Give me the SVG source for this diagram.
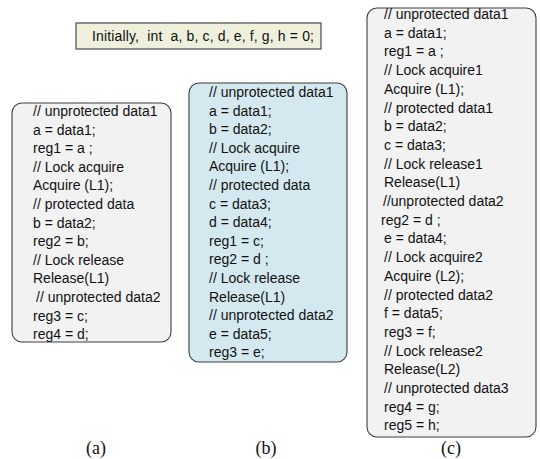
<svg xmlns="http://www.w3.org/2000/svg" width="540" height="459" viewBox="0 0 540 459">
<style>
.box{stroke:#3c3c3c;stroke-width:1.1}
.gray{fill:#f2f2f2}
.blue{fill:#d3e9ef}
.code{font-family:"Liberation Sans",Arial,sans-serif;font-size:14px;fill:#111}
.cap{font-family:"Liberation Serif","Times New Roman",serif;font-size:18px;fill:#111;text-anchor:middle}
</style>
<rect width="540" height="459" fill="#ffffff"/>
<g id="init">
<rect x="76" y="23" width="245" height="26" fill="#eef0dc" stroke="#3c3c3c" stroke-width="1.1"/>
<text class="code" x="92" y="41" xml:space="preserve" textLength="222" lengthAdjust="spacing">Initially,  int  a, b, c, d, e, f, g, h = 0;</text>
</g>
<g id="node-a">
<rect class="box gray" x="12" y="103" width="159" height="239" rx="10"/>
<text class="code">
<tspan x="33" y="116">// unprotected data1</tspan>
<tspan x="33" y="134.6">a = data1;</tspan>
<tspan x="33" y="153.2">reg1 = a ;</tspan>
<tspan x="33" y="171.8">// Lock acquire</tspan>
<tspan x="33" y="190.4">Acquire (L1);</tspan>
<tspan x="33" y="209">// protected data</tspan>
<tspan x="33" y="227.6">b = data2;</tspan>
<tspan x="33" y="246.2">reg2 = b;</tspan>
<tspan x="33" y="264.8">// Lock release</tspan>
<tspan x="33" y="283.4">Release(L1)</tspan>
<tspan x="36" y="302">// unprotected data2</tspan>
<tspan x="33" y="320.6">reg3 = c;</tspan>
<tspan x="33" y="339.2">reg4 = d;</tspan>
</text>
</g>
<g id="node-b">
<rect class="box blue" x="189" y="83" width="158" height="279" rx="10"/>
<text class="code">
<tspan x="209" y="97">// unprotected data1</tspan>
<tspan x="209" y="115.6">a = data1;</tspan>
<tspan x="209" y="134.2">b = data2;</tspan>
<tspan x="209" y="152.8">// Lock acquire</tspan>
<tspan x="209" y="171.4">Acquire (L1);</tspan>
<tspan x="209" y="190">// protected data</tspan>
<tspan x="209" y="208.6">c = data3;</tspan>
<tspan x="209" y="227.2">d = data4;</tspan>
<tspan x="209" y="245.8">reg1 = c;</tspan>
<tspan x="209" y="264.4">reg2 = d ;</tspan>
<tspan x="209" y="283">// Lock release</tspan>
<tspan x="209" y="301.6">Release(L1)</tspan>
<tspan x="209" y="320.2">// unprotected data2</tspan>
<tspan x="209" y="338.8">e = data5;</tspan>
<tspan x="209" y="357.4">reg3 = e;</tspan>
</text>
</g>
<g id="node-c">
<rect class="box gray" x="367" y="8" width="169" height="429" rx="10"/>
<text class="code">
<tspan x="384" y="19">// unprotected data1</tspan>
<tspan x="384" y="37.7">a = data1;</tspan>
<tspan x="384" y="56.4">reg1 = a ;</tspan>
<tspan x="384" y="75.1">// Lock acquire1</tspan>
<tspan x="384" y="93.8">Acquire (L1);</tspan>
<tspan x="384" y="112.5">// protected data1</tspan>
<tspan x="384" y="131.2">b = data2;</tspan>
<tspan x="384" y="149.9">c = data3;</tspan>
<tspan x="384" y="168.6">// Lock release1</tspan>
<tspan x="384" y="187.3">Release(L1)</tspan>
<tspan x="383" y="206">//unprotected data2</tspan>
<tspan x="381" y="224.7">reg2 = d ;</tspan>
<tspan x="384" y="243.4">e = data4;</tspan>
<tspan x="384" y="262.1">// Lock acquire2</tspan>
<tspan x="384" y="280.8">Acquire (L2);</tspan>
<tspan x="384" y="299.5">// protected data2</tspan>
<tspan x="384" y="318.2">f = data5;</tspan>
<tspan x="384" y="336.9">reg3 = f;</tspan>
<tspan x="384" y="355.6">// Lock release2</tspan>
<tspan x="384" y="374.3">Release(L2)</tspan>
<tspan x="384" y="393">// unprotected data3</tspan>
<tspan x="384" y="411.7">reg4 = g;</tspan>
<tspan x="384" y="430.4">reg5 = h;</tspan>
</text>
</g>
<g id="labels">
<text class="cap" x="96" y="454">(a)</text>
<text class="cap" x="266" y="454">(b)</text>
<text class="cap" x="451" y="454">(c)</text>
</g>
<g id="connectors"></g>
</svg>
